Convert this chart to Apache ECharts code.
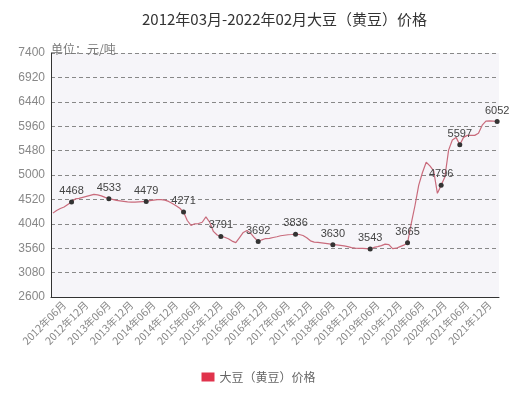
<!DOCTYPE html>
<html>
<head>
<meta charset="utf-8" />
<script src="https://cdn.jsdelivr.net/npm/echarts@6/dist/echarts.min.js"></script>
<style>
  html, body { margin: 0; padding: 0; background: #fff; }
  #main { width: 517px; height: 398px; }
</style>
</head>
<body>
<div id="main"></div>
<script>
// 月份 2012-03 ~ 2022-02
const months = [];
for (let y = 2012, m = 3; months.length < 120; m++) {
  if (m > 12) { m = 1; y++; }
  months.push(y + "年" + String(m).padStart(2, "0") + "月");
}

const prices = [
  4250, 4300, 4340, 4370, 4420, 4468, 4530, 4540, 4560, 4580,
  4600, 4620, 4610, 4590, 4560, 4533, 4520, 4500, 4490, 4480,
  4470, 4467, 4465, 4470, 4475, 4479, 4495, 4505, 4514, 4514,
  4505, 4480, 4440, 4395, 4345, 4271, 4105, 4010, 4040, 4045,
  4070, 4175, 4070, 3890, 3820, 3791, 3775, 3745, 3700, 3670,
  3770, 3870, 3910, 3850, 3765, 3692, 3725, 3750, 3755, 3770,
  3785, 3805, 3815, 3825, 3830, 3836, 3830, 3810, 3765, 3705,
  3680, 3675, 3665, 3655, 3645, 3630, 3625, 3615, 3605, 3590,
  3570, 3560, 3555, 3555, 3550, 3543, 3575, 3590, 3610, 3640,
  3630, 3550, 3560, 3590, 3620, 3665, 4050, 4400, 4800, 5050,
  5250, 5180, 5080, 4640, 4796, 4960, 5490, 5690, 5740, 5597,
  5740, 5780, 5780, 5780, 5820, 5980, 6060, 6065, 6060, 6052
];

// 标注数值的月份序号
const labelIdx = [5, 15, 25, 35, 45, 55, 65, 75, 85, 95, 104, 109, 119];

const yMin = 2600;
const yMax = 7400;
const yStep = 480;

const seriesData = prices.map((v, i) =>
  labelIdx.includes(i)
    ? {
        value: v,
        symbol: "circle",
        symbolSize: 5,
        itemStyle: { color: "#333" },
        label: { show: true },
      }
    : { value: v }
);

const chart = echarts.init(document.getElementById("main"));
chart.setOption({
  animation: false,
  title: {
    text: "2012年03月-2022年02月大豆（黄豆）价格",
    left: 137,
    top: 7,
    textStyle: {
      fontSize: 15,
      fontWeight: "normal",
      color: "#333",
      fontFamily: "Noto Sans CJK SC",
    },
  },
  legend: {
    bottom: 10,
    left: "center",
    itemWidth: 13,
    itemHeight: 9,
    icon: "rect",
    textStyle: { color: "#666", fontSize: 12, fontFamily: "Noto Sans CJK SC" },
    data: ["大豆（黄豆）价格"],
  },
  grid: {
    left: 51,
    right: 18,
    top: 53,
    bottom: 101,
    show: true,
    backgroundColor: "#f6f5f9",
    borderWidth: 0,
  },
  xAxis: {
    type: "category",
    data: months,
    boundaryGap: true,
    axisLine: { lineStyle: { color: "#333", width: 1 } },
    axisTick: {
      alignWithLabel: true,
      interval: (i) => (i - 3) % 6 === 0,
      lineStyle: { color: "#888" },
      length: 4,
    },
    axisLabel: {
      interval: (i) => (i - 3) % 6 === 0,
      rotate: 45,
      color: "#888",
      fontSize: 10.5,
      fontFamily: "Noto Sans CJK SC",
      margin: 6,
    },
    splitLine: { show: false },
  },
  yAxis: {
    type: "value",
    min: yMin,
    max: yMax,
    interval: yStep,
    name: "单位：元/吨",
    nameLocation: "end",
    nameGap: 0,
    nameTextStyle: {
      align: "left",
      verticalAlign: "bottom",
      color: "#777",
      fontSize: 12,
      fontFamily: "Noto Sans CJK SC",
      padding: [0, 0, -2, 0],
    },
    axisLine: { show: true, lineStyle: { color: "#333", width: 1 } },
    axisTick: { show: false },
    axisLabel: {
      color: "#888",
      fontSize: 12,
      margin: 6,
      formatter: (v) => String(v),
    },
    splitLine: { lineStyle: { color: "#888", type: [4, 3] } },
  },
  series: [
    {
      name: "大豆（黄豆）价格",
      type: "line",
      data: seriesData,
      symbol: "none",
      showAllSymbol: true,
      itemStyle: { color: "#e0334c" },
      lineStyle: { color: "#c96b7c", width: 1.2 },
      labelLayout: { hideOverlap: false },
      label: {
        position: "top",
        color: "#444",
        fontSize: 11,
        distance: 3,
      },
    },
  ],
});
</script>
</body>
</html>
